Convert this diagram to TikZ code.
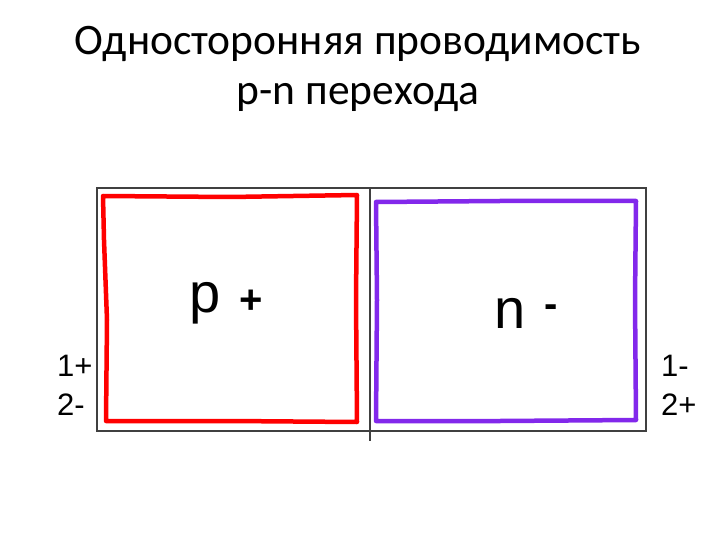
\documentclass[tikz,border=0pt]{standalone}
\usepackage{fontspec}
\setmainfont{Carlito}
\newfontfamily\arial{Liberation Sans}
\begin{document}
\begin{tikzpicture}[x=1pt, y=-1pt, every node/.style={inner sep=0pt}]
\useasboundingbox[fill=white] (0,0) rectangle (720,540);
\tikzset{
  frame/.style={draw=black!75, line width=1.6pt},
  hand/.style={line width=4.5pt, line join=round, line cap=round},
  title/.style={font=\fontsize{43.5}{50}\selectfont, anchor=base},
  region/.style={font=\arial\fontsize{56}{60}\selectfont, anchor=base},
  sign/.style={font=\arial\bfseries\fontsize{40}{44}\selectfont},
  side/.style={font=\arial\fontsize{31}{36}\selectfont, anchor=base west}
}
\node[title] (line1) at (358,55) {Односторонняя проводимость}; % title 1
\node[title] (line2) at (358,105) {p-n перехода}; % title 2
\draw[frame] (97,188) rectangle (646,431); % crystal
\draw[frame] (370,188) -- (370,441); % junction
\draw[hand, red] (103,196) -- (230,197) -- (357,195) -- (356,300) -- (357,422) -- (230,421) -- (106,421) -- (107,320) -- (104,240) -- cycle; % p area
\draw[hand, color={rgb,255:red,130;green,40;blue,235}] (376,202) -- (500,201) -- (636,201) -- (635,300) -- (636,420) -- (500,421) -- (376,421) -- (377,300) -- cycle; % n area
\node[region] (preg) at (205,312) {p}; % p
\node[sign] (pplus) at (251,302) {+}; % p sign
\node[region] (nreg) at (510,328) {n}; % n
\node[sign] (nminus) at (551,311) {-}; % n sign
\node[side] (l1) at (57,376) {1+}; % left
\node[side] (l2) at (57,415) {2-};
\node[side] (r1) at (661,376) {1-}; % right
\node[side] (r2) at (661,415) {2+};
\end{tikzpicture}
\end{document}
